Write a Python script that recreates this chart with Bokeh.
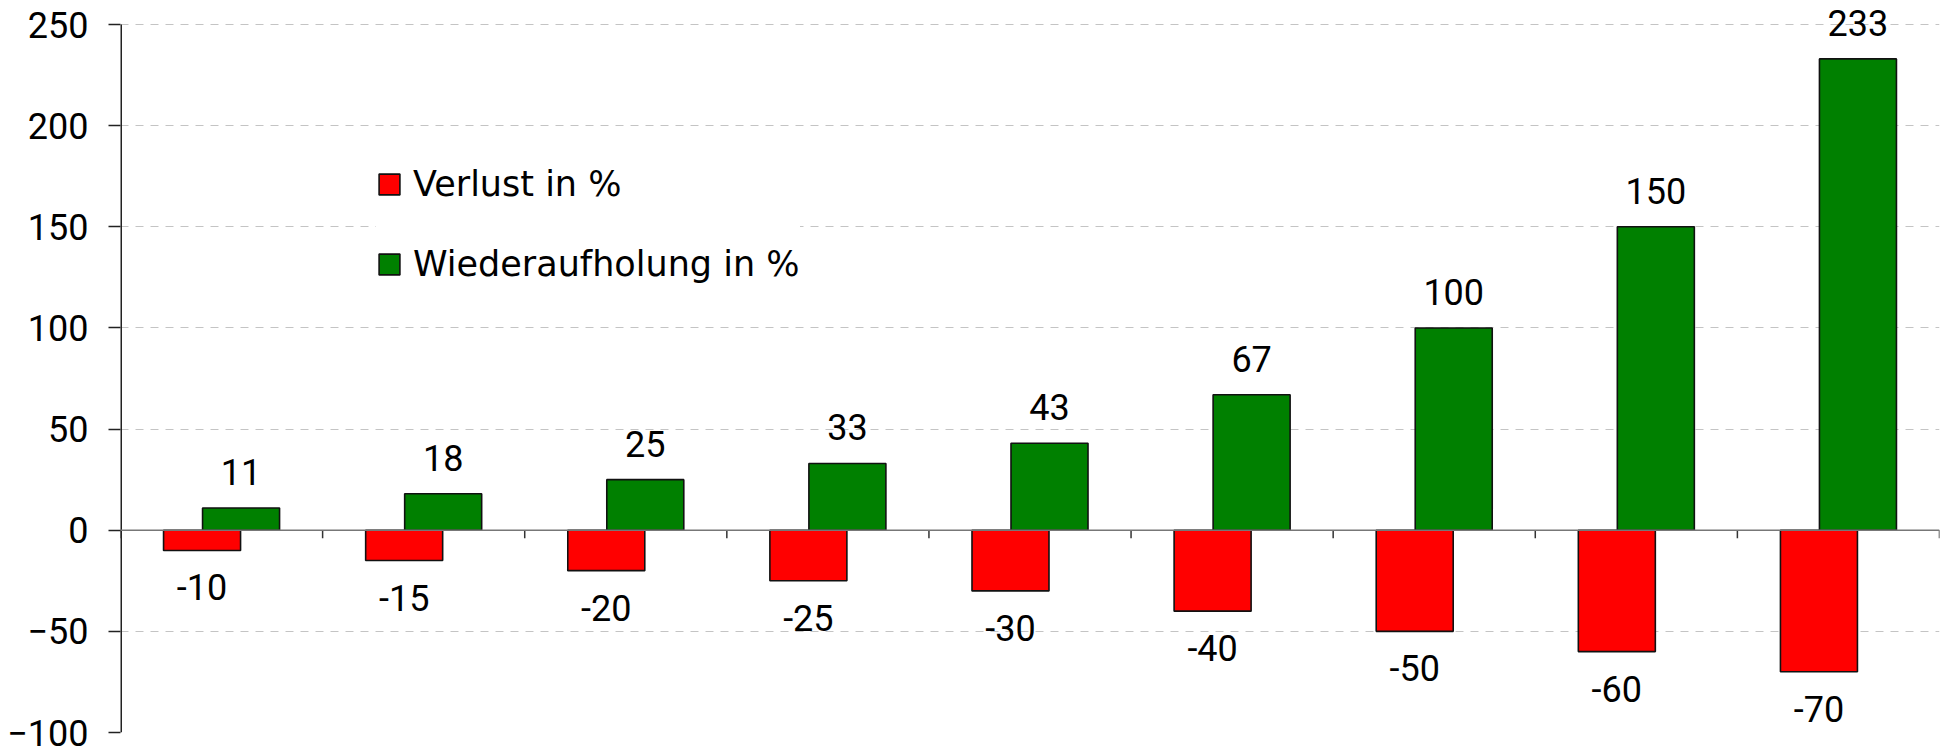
from bokeh.plotting import figure
from bokeh.models import ColumnDataSource, Range1d, Span, LabelSet, Legend, LegendItem, FixedTicker
from bokeh.core.properties import value
from bokeh.embed import file_html
from bokeh.resources import INLINE

# ---- data ----
categories = ["1", "2", "3", "4", "5", "6", "7", "8", "9"]
verlust = [-10, -15, -20, -25, -30, -40, -50, -60, -70]
wiederaufholung = [11, 18, 25, 33, 43, 67, 100, 150, 233]
y_ticks = [-100, -50, 0, 50, 100, 150, 200, 250]
series_names = ["Verlust in %", "Wiederaufholung in %"]

FONT = "Roboto"
LFONT = "DejaVu Sans"
FS = "36px"
LFS = "35px"
W, H = 1941, 746
ML, MT, MB, MR = 120, 4, 14, 2
AXIS_TOP_PX = 24          # pixel row (from figure top) where the top tick sits
ymin, ymax = y_ticks[0], y_ticks[-1]

frame_h = H - MT - MB
px_per_unit = (frame_h - (AXIS_TOP_PX - MT)) / (ymax - ymin)
ymax_ext = ymax + (AXIS_TOP_PX - MT) / px_per_unit

n = len(categories)
centers = [i + 0.5 for i in range(n)]
bar_w = 0.381
off = 0.0965

src_r = ColumnDataSource(dict(x=[c - off for c in centers], top=verlust,
                              lab=[str(v) for v in verlust]))
src_g = ColumnDataSource(dict(x=[c + off for c in centers], top=wiederaufholung,
                              lab=[str(v) for v in wiederaufholung]))

p = figure(width=W, height=H, output_backend="svg", toolbar_location=None,
           x_range=Range1d(0, n), y_range=Range1d(ymin, ymax_ext),
           x_axis_location=None, min_border_left=ML, min_border_top=MT,
           min_border_bottom=MB, min_border_right=MR)
p.outline_line_color = None
p.background_fill_color = "white"
p.border_fill_color = "white"

# grid
p.xgrid.visible = False
p.ygrid.ticker = FixedTicker(ticks=y_ticks)
p.ygrid.grid_line_color = "#c4c4c4"
p.ygrid.grid_line_dash = "8 7"
p.ygrid.grid_line_width = 1

# y axis (line drawn separately so it stops at the top tick)
ax = p.yaxis[0]
ax.ticker = FixedTicker(ticks=y_ticks)
ax.major_tick_out = 12
ax.major_tick_in = 0
ax.minor_tick_line_color = None
ax.axis_line_color = None
ax.major_tick_line_color = "#222222"
ax.major_tick_line_width = 1.5
ax.major_label_text_font = FONT
ax.major_label_text_font_size = FS
ax.major_label_text_color = "black"
ax.major_label_standoff = 20
p.segment(x0=[0], y0=[ymin], x1=[0], y1=[ymax], line_color="#222222", line_width=3)

# bars
r_red = p.vbar(x="x", top="top", bottom=0, width=bar_w, source=src_r,
               fill_color="#ff0000", line_color="#111111", line_width=1.6)
r_green = p.vbar(x="x", top="top", bottom=0, width=bar_w, source=src_g,
                 fill_color="#008000", line_color="#111111", line_width=1.6)

# zero line with category ticks
p.add_layout(Span(location=0, dimension="width", line_color="#777777", line_width=1.5))
tick_units = 8 / px_per_unit
bounds = list(range(n + 1))
p.segment(x0=bounds, y0=[0] * len(bounds), x1=bounds, y1=[-tick_units] * len(bounds),
          line_color="#333333", line_width=1.5)

# value labels
p.add_layout(LabelSet(x="x", y="top", text="lab", source=src_g, text_align="center",
                      text_baseline="alphabetic", y_offset=23, text_font=value(FONT),
                      text_font_size=FS, text_color="black"))
p.add_layout(LabelSet(x="x", y="top", text="lab", source=src_r, text_align="center",
                      text_baseline="alphabetic", y_offset=-50, text_font=value(FONT),
                      text_font_size=FS, text_color="black"))

# legend
legend = Legend(items=[LegendItem(label=series_names[0], renderers=[r_red]),
                       LegendItem(label=series_names[1], renderers=[r_green])],
                location=(256, 448), orientation="vertical",
                padding=20, margin=0, spacing=40,
                glyph_width=26, glyph_height=26, label_height=26,
                label_standoff=11, label_text_font=LFONT, label_text_font_size=LFS,
                label_text_color="black", label_text_baseline="middle",
                border_line_color=None, background_fill_color="white",
                background_fill_alpha=1.0)
p.add_layout(legend)

open("out.html", "w").write(file_html(p, INLINE))
